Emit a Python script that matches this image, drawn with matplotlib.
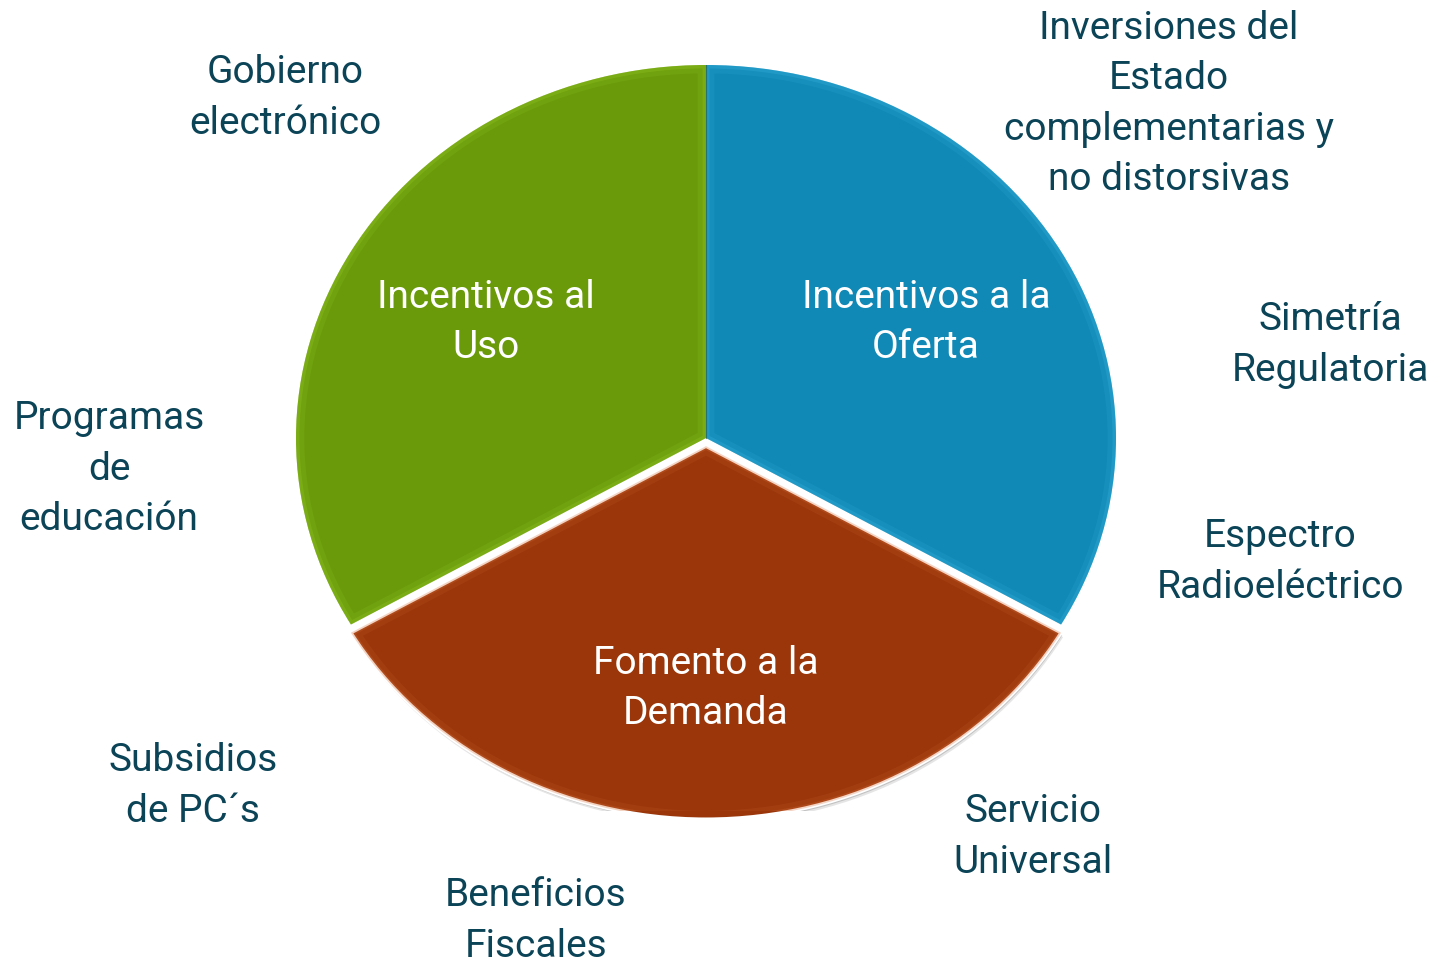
import matplotlib.pyplot as plt
import numpy as np
from matplotlib.patches import Wedge

plt.rcParams['font.family'] = ['Roboto', 'DejaVu Sans']

# pie segments, counterclockwise from the top
segments = ['Incentivos al\nUso', 'Fomento a la\nDemanda', 'Incentivos a la\nOferta']
shares = [1, 1, 1]
face_colors = ['#6a9a0a', '#9a360a', '#1089b6']
rim_colors = ['#a2d630', '#dc7440', '#48c0ea']
explode = [0, 0.022, 0]

# labels around the pie (pixel centres)
outer_labels = ['Gobierno\nelectrónico',
                'Inversiones del\nEstado\ncomplementarias y\nno distorsivas',
                'Simetría\nRegulatoria',
                'Espectro\nRadioeléctrico',
                'Programas\nde\neducación',
                'Subsidios\nde PC´s',
                'Servicio\nUniversal',
                'Beneficios\nFiscales']
outer_x = [285, 1169, 1330, 1280, 109, 193, 1033, 536]
outer_y = [98, 104, 345, 562, 469, 786, 837, 921]

text_col = '#0b4357'
fs = 28
ls = 1.47

W, H = 1435, 965
fig = plt.figure(figsize=(W / 100, H / 100), dpi=100)

cx, cy, rx, ry = 706, 438, 410, 373
ax = fig.add_axes([(cx - rx) / W, 1 - (cy + ry) / H, 2 * rx / W, 2 * ry / H])
wedges, _ = ax.pie(shares, colors=face_colors, startangle=90, explode=explode,
                   radius=1, wedgeprops=dict(linewidth=0))
ax.set_aspect('auto')
ax.set_xlim(-1, 1)
ax.set_ylim(-1, 1)

for i, w in enumerate(wedges):
    w.set_zorder(3)
    # soft bevel along the edges
    for lw, a in [(12, 0.12), (5, 0.22)]:
        bev = Wedge(w.center, w.r, w.theta1, w.theta2, facecolor='none',
                    edgecolor=rim_colors[i], linewidth=lw, alpha=a, zorder=4)
        ax.add_patch(bev)
        bev.set_clip_path(w)
    if explode[i] > 0:
        # shadow behind the pulled-out slice
        for off, a in [(0.012, 0.18), (0.007, 0.3)]:
            sh = Wedge((w.center[0] + off * 0.4, w.center[1] - off), w.r,
                       w.theta1, w.theta2, facecolor='#707070', alpha=a,
                       linewidth=0, zorder=2.5)
            ax.add_patch(sh)
        w.set_edgecolor('white')
        w.set_linewidth(2.5)
        w.set_zorder(3.5)

    mid = np.deg2rad((w.theta1 + w.theta2) / 2)
    d = 0.62 if explode[i] == 0 else 0.65
    ax.text(w.center[0] + d * np.cos(mid), w.center[1] + d * np.sin(mid),
            segments[i], ha='center', va='center', color='white',
            fontsize=fs, linespacing=ls, zorder=6)

# thin dark seam between the two upper slices
ax.plot([0, 0], [0, 1], color='#2d5a3a', lw=0.8, alpha=0.6, zorder=5)

for lab, x, y in zip(outer_labels, outer_x, outer_y):
    fig.text(x / W, 1 - y / H, lab, ha='center', va='center',
             color=text_col, fontsize=fs, linespacing=ls)

fig.savefig('out.png', dpi=100)
